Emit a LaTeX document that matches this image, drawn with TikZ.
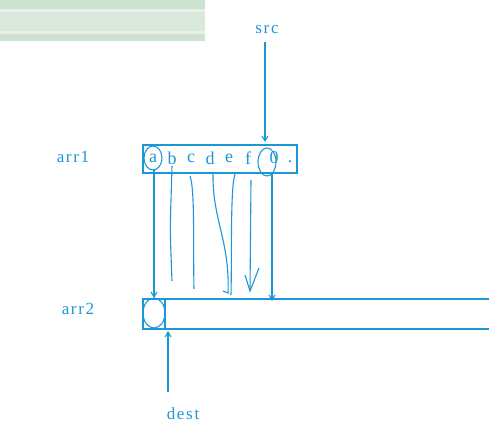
\documentclass[tikz,border=0pt]{standalone}
\usepackage{fontspec}
\setmainfont{Liberation Serif}
\newfontfamily\lblfont[LetterSpace=10]{Liberation Serif}
\usetikzlibrary{arrows.meta,positioning,shapes.geometric}
\definecolor{penblue}{RGB}{28,150,215}
\definecolor{bandA}{RGB}{205,227,207}
\definecolor{bandB}{RGB}{217,233,219}
\definecolor{bandC}{RGB}{232,238,234}

\begin{document}
\begin{tikzpicture}[x=1pt, y=-1pt,
    lbl/.style={text=penblue, font=\lblfont\fontsize{17}{17}\selectfont},
    chr/.style={text=penblue, font=\fontsize{18}{18}\selectfont, inner sep=0pt},
    cellbox/.style={draw=penblue, line width=1.6pt},
    ink/.style={draw=penblue, line width=1.1pt},
    ptr/.style={ink, -{Straight Barb[length=5pt, width=6pt]}},
]
    \useasboundingbox (0,0) rectangle (489,427);

    % window band in the corner
    \fill[bandA] (0,0) rectangle (205,41);
    \fill[bandC] (0,9) rectangle (205,12);
    \fill[bandB] (0,12) rectangle (205,31);
    \fill[bandC] (0,31) rectangle (205,34);

    % labels
    \node[lbl] (srclbl) at (267,30) {src};
    \node[lbl] (arr1lbl) at (73,157) {arr1};
    \node[lbl] (arr2lbl) at (78,309) {arr2};
    \node[lbl] (destlbl) at (183,414) {dest};

    % the two arrays
    \node[cellbox, minimum width=154pt, minimum height=28pt, anchor=north west] (arr1) at (142,144) {};
    \node[cellbox, minimum width=352pt, minimum height=30pt, anchor=north west] (arr2) at (142,298) {};
    \draw[cellbox] (165,298) -- (165,328);

    % characters of arr1
    \foreach \ch/\xx/\txt in {a/153/a,b/172/b,c/191/c,d/210/d,e/229/e,f/248/f,z/274/0}{
        \node[chr] (\ch) at (\xx,158) {\txt};
    }
    \node[chr, anchor=base] (dot) at (290,163) {.};

    % hand circles
    \draw[ink] (a) ellipse (9pt and 12pt);
    \draw[ink] (267,162) ellipse (9pt and 14pt);
    \draw[ink] (154,313) ellipse (11pt and 15pt);

    % copying strokes
    \coordinate (ta) at (154,298);
    \coordinate (tb) at (172,281);
    \coordinate (tc) at (194,289);
    \coordinate (td) at (228,293);
    \coordinate (te) at (231,295);
    \coordinate (tf) at (250,291);
    \coordinate (tz) at (272,301);
    \draw[ptr] (154,170) -- (ta);
    \draw[ink] (172,166) -- (171,200) .. controls (170,230) .. (tb);
    \draw[ink] (190,176) .. controls (195,190) and (193,240) .. (tc);
    \draw[ink] (213,172) .. controls (212,220) and (230,240) .. (td) -- (223,291);
    \draw[ink] (236,172) .. controls (230,180) and (232,250) .. (te);
    \draw[ink] (251,180) -- (tf);
    \draw[ink] (245,275) -- (tf) -- (259,268);
    \draw[ptr] (272,172) -- (tz);

    % src and dest pointers
    \coordinate (stip) at (265,142);
    \draw[ptr] (265,42) -- (stip);
    \coordinate (dtip) at (168,331);
    \draw[ptr] (168,392) -- (dtip);
\end{tikzpicture}
\end{document}
